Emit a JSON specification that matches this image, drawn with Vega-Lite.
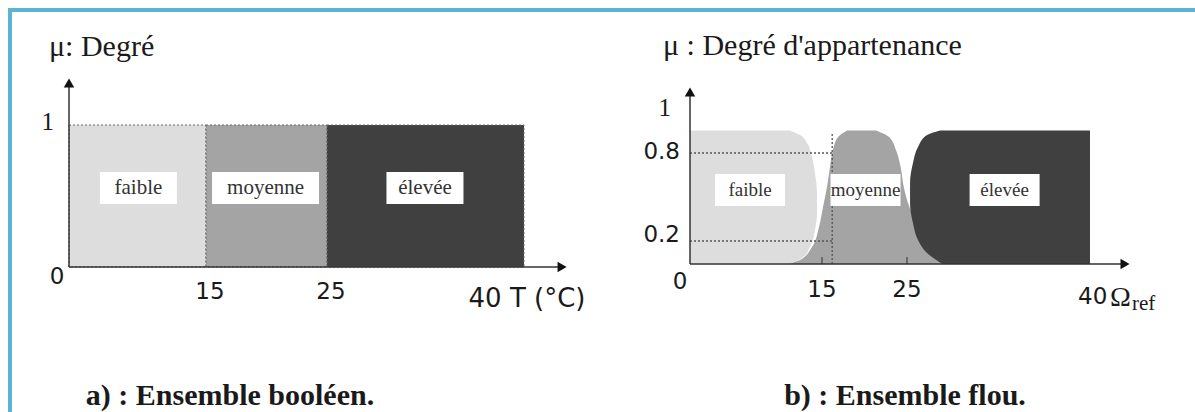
{
  "$schema": "https://vega.github.io/schema/vega-lite/v6.json",
  "width": 1188,
  "height": 406,
  "autosize": {"type": "none"},
  "padding": {"left": 10, "top": 10, "right": -3, "bottom": -4},
  "background": "white",
  "config": {
    "view": {"stroke": "#5bb4d0", "strokeWidth": 4},
    "axis": {"disable": true},
    "legend": {"disable": true},
    "text": {"font": "Liberation Serif", "color": "#1a1a1a"}
  },
  "datasets": {
    "crisp": [
      {"set": "faible", "from": 0, "to": 15, "mu": 1},
      {"set": "moyenne", "from": 15, "to": 25, "mu": 1},
      {"set": "élevée", "from": 25, "to": 40, "mu": 1}
    ],
    "fuzzy": [
      {"set": "moyenne", "mu": 0, "lo": 10.8, "hi": 28.5},
      {"set": "moyenne", "mu": 0.035, "lo": 12.5, "hi": 28.0},
      {"set": "moyenne", "mu": 0.148, "lo": 13.86, "hi": 27.0},
      {"set": "moyenne", "mu": 0.295, "lo": 14.66, "hi": 26.0},
      {"set": "moyenne", "mu": 0.432, "lo": 15.12, "hi": 25.2},
      {"set": "moyenne", "mu": 0.568, "lo": 15.59, "hi": 24.62},
      {"set": "moyenne", "mu": 0.705, "lo": 15.94, "hi": 24.25},
      {"set": "moyenne", "mu": 0.813, "lo": 16.29, "hi": 23.7},
      {"set": "moyenne", "mu": 0.871, "lo": 16.88, "hi": 22.9},
      {"set": "moyenne", "mu": 0.9, "lo": 17.94, "hi": 21.35},
      {"set": "faible", "mu": 0, "lo": 0, "hi": 11.36},
      {"set": "faible", "mu": 0.052, "lo": 0, "hi": 12.73},
      {"set": "faible", "mu": 0.148, "lo": 0, "hi": 13.64},
      {"set": "faible", "mu": 0.275, "lo": 0, "hi": 14.2},
      {"set": "faible", "mu": 0.391, "lo": 0, "hi": 14.43},
      {"set": "faible", "mu": 0.527, "lo": 0, "hi": 14.43},
      {"set": "faible", "mu": 0.664, "lo": 0, "hi": 14.2},
      {"set": "faible", "mu": 0.773, "lo": 0, "hi": 13.86},
      {"set": "faible", "mu": 0.844, "lo": 0, "hi": 13.3},
      {"set": "faible", "mu": 0.88, "lo": 0, "hi": 12.5},
      {"set": "faible", "mu": 0.9, "lo": 0, "hi": 11.36},
      {"set": "élevée", "mu": 0, "lo": 27.9, "hi": 40},
      {"set": "élevée", "mu": 0.096, "lo": 26.64, "hi": 40},
      {"set": "élevée", "mu": 0.207, "lo": 25.9, "hi": 40},
      {"set": "élevée", "mu": 0.323, "lo": 25.49, "hi": 40},
      {"set": "élevée", "mu": 0.459, "lo": 25.25, "hi": 40},
      {"set": "élevée", "mu": 0.596, "lo": 25.25, "hi": 40},
      {"set": "élevée", "mu": 0.732, "lo": 25.49, "hi": 40},
      {"set": "élevée", "mu": 0.827, "lo": 25.9, "hi": 40},
      {"set": "élevée", "mu": 0.88, "lo": 26.64, "hi": 40},
      {"set": "élevée", "mu": 0.9, "lo": 27.7, "hi": 40}
    ],
    "labels": [
      {"panel": "a", "set": "faible", "x": 7.6, "mu": 0.556},
      {"panel": "a", "set": "moyenne", "x": 19.92, "mu": 0.556},
      {"panel": "a", "set": "élevée", "x": 32.46, "mu": 0.556},
      {"panel": "b", "set": "faible", "x": 6.82, "mu": 0.548},
      {"panel": "b", "set": "moyenne", "x": 20.12, "mu": 0.548},
      {"panel": "b", "set": "élevée", "x": 33.0, "mu": 0.548}
    ],
    "ticks": [{"v": 15}, {"v": 25}],
    "levels": [{"mu": 0.8}, {"mu": 0.2}]
  },
  "resolve": {"scale": {"x": "independent", "y": "independent"}},
  "layer": [
    {
      "layer": [
        {
          "data": {"name": "crisp"},
          "mark": {"type": "rect", "stroke": "#6a6a6a", "strokeDash": [2, 2], "strokeWidth": 1},
          "encoding": {
            "x": {"field": "from", "type": "quantitative", "stack": null, "scale": {"domain": [0, 15, 25, 40], "range": [59, 196, 317, 514], "nice": false, "zero": false}},
            "x2": {"field": "to"},
            "y": {"field": "mu", "type": "quantitative", "scale": {"domain": [0, 1], "range": [257, 115], "nice": false, "zero": false}},
            "y2": {"datum": 0},
            "color": {"field": "set", "type": "nominal", "scale": {"domain": ["faible", "moyenne", "élevée"], "range": ["#dddddd", "#a4a4a4", "#404040"]}}
          }
        },
        {
          "data": {"name": "labels"},
          "transform": [{"filter": "datum.panel === 'a' && datum.set !== 'moyenne'"}],
          "mark": {"type": "rect", "width": 77, "height": 32, "fill": "white"},
          "encoding": {
            "x": {"field": "x", "type": "quantitative"},
            "y": {"field": "mu", "type": "quantitative"}
          }
        },
        {
          "data": {"name": "labels"},
          "transform": [{"filter": "datum.panel === 'a' && datum.set === 'moyenne'"}],
          "mark": {"type": "rect", "width": 107, "height": 32, "fill": "white"},
          "encoding": {
            "x": {"field": "x", "type": "quantitative"},
            "y": {"field": "mu", "type": "quantitative"}
          }
        },
        {
          "data": {"name": "labels"},
          "transform": [{"filter": "datum.panel === 'a'"}],
          "mark": {"type": "text", "fontSize": 21, "color": "#333333"},
          "encoding": {
            "x": {"field": "x", "type": "quantitative"},
            "y": {"field": "mu", "type": "quantitative"},
            "text": {"field": "set"}
          }
        },
        {
          "data": {"values": [{}]},
          "mark": {"type": "rule", "color": "#333333", "strokeWidth": 1.5},
          "encoding": {"x": {"datum": 0, "type": "quantitative"}, "x2": {"datum": 42.9}, "y": {"datum": 0, "type": "quantitative"}}
        },
        {
          "data": {"values": [{}]},
          "mark": {"type": "rule", "color": "#333333", "strokeWidth": 1.5},
          "encoding": {"x": {"datum": 0, "type": "quantitative"}, "y": {"datum": 0, "type": "quantitative"}, "y2": {"datum": 1.3}}
        },
        {
          "data": {"values": [{}]},
          "mark": {"type": "point", "shape": "triangle-right", "filled": true, "color": "#111111", "opacity": 1, "size": 110},
          "encoding": {"x": {"datum": 42.9, "type": "quantitative"}, "y": {"datum": 0, "type": "quantitative"}}
        },
        {
          "data": {"values": [{}]},
          "mark": {"type": "point", "shape": "triangle-up", "filled": true, "color": "#111111", "opacity": 1, "size": 110},
          "encoding": {"x": {"datum": 0, "type": "quantitative"}, "y": {"datum": 1.296, "type": "quantitative"}}
        },
        {
          "data": {"values": [{}]},
          "mark": {"type": "text", "text": "μ: Degré", "fontSize": 30, "align": "left", "baseline": "alphabetic", "dx": -20, "dy": -22},
          "encoding": {"x": {"datum": 0, "type": "quantitative"}, "y": {"datum": 1.33, "type": "quantitative"}}
        },
        {
          "data": {"values": [{}]},
          "mark": {"type": "text", "text": "1", "fontSize": 25, "align": "right", "baseline": "middle", "dx": -15, "dy": -3},
          "encoding": {"x": {"datum": 0, "type": "quantitative"}, "y": {"datum": 1, "type": "quantitative"}}
        },
        {
          "data": {"values": [{}]},
          "mark": {"type": "text", "text": "0", "font": "DejaVu Sans", "fontSize": 23, "align": "center", "baseline": "middle", "dx": -12, "dy": 10},
          "encoding": {"x": {"datum": 0, "type": "quantitative"}, "y": {"datum": 0, "type": "quantitative"}}
        },
        {
          "data": {"name": "ticks"},
          "mark": {"type": "text", "font": "DejaVu Sans", "fontSize": 23, "align": "center", "baseline": "middle", "dx": 4, "dy": 25},
          "encoding": {"x": {"field": "v", "type": "quantitative"}, "y": {"datum": 0, "type": "quantitative"}, "text": {"field": "v"}}
        },
        {
          "data": {"values": [{}]},
          "mark": {"type": "text", "text": "40 T (°C)", "font": "DejaVu Sans", "fontSize": 26, "align": "center", "baseline": "middle", "dx": 3, "dy": 32},
          "encoding": {"x": {"datum": 40, "type": "quantitative"}, "y": {"datum": 0, "type": "quantitative"}}
        },
        {
          "data": {"values": [{}]},
          "mark": {"type": "text", "text": "a) : Ensemble booléen.", "fontSize": 30, "fontWeight": "bold", "align": "center", "baseline": "alphabetic", "dx": 24, "dy": 138},
          "encoding": {"x": {"datum": 15, "type": "quantitative"}, "y": {"datum": 0, "type": "quantitative"}}
        }
      ]
    },
    {
      "layer": [
        {
          "data": {"name": "fuzzy"},
          "transform": [{"filter": "datum.set === 'moyenne'"}],
          "mark": {"type": "area", "orient": "horizontal", "interpolate": "monotone"},
          "encoding": {
            "y": {"field": "mu", "type": "quantitative", "scale": {"domain": [0, 0.2, 0.8, 1], "range": [254, 231, 143, 98], "nice": false, "zero": false}},
            "x": {"field": "lo", "type": "quantitative", "stack": null, "scale": {"domain": [0, 15, 25, 40], "range": [680, 812, 897, 1080], "nice": false, "zero": false}},
            "x2": {"field": "hi"},
            "color": {"field": "set", "type": "nominal"}
          }
        },
        {
          "data": {"name": "fuzzy"},
          "transform": [{"filter": "datum.set === 'faible'"}],
          "mark": {"type": "area", "orient": "horizontal", "interpolate": "monotone"},
          "encoding": {
            "y": {"field": "mu", "type": "quantitative"},
            "x": {"field": "lo", "type": "quantitative", "stack": null},
            "x2": {"field": "hi"},
            "color": {"field": "set", "type": "nominal"}
          }
        },
        {
          "data": {"name": "fuzzy"},
          "transform": [{"filter": "datum.set === 'élevée'"}],
          "mark": {"type": "area", "orient": "horizontal", "interpolate": "monotone"},
          "encoding": {
            "y": {"field": "mu", "type": "quantitative"},
            "x": {"field": "lo", "type": "quantitative", "stack": null},
            "x2": {"field": "hi"},
            "color": {"field": "set", "type": "nominal"}
          }
        },
        {
          "data": {"name": "levels"},
          "mark": {"type": "rule", "color": "#555555", "strokeWidth": 1.3, "strokeDash": [2, 2]},
          "encoding": {"x": {"datum": 0, "type": "quantitative"}, "x2": {"datum": 16.2}, "y": {"field": "mu", "type": "quantitative"}}
        },
        {
          "data": {"values": [{}]},
          "mark": {"type": "rule", "color": "#555555", "strokeWidth": 1.3, "strokeDash": [2, 2]},
          "encoding": {"x": {"datum": 16.2, "type": "quantitative"}, "y": {"datum": 0, "type": "quantitative"}, "y2": {"datum": 0.89}}
        },
        {
          "data": {"name": "ticks"},
          "mark": {"type": "rule", "color": "#444444", "strokeWidth": 1.2},
          "encoding": {"x": {"field": "v", "type": "quantitative"}, "y": {"datum": 0, "type": "quantitative"}, "y2": {"datum": 0.06}}
        },
        {
          "data": {"name": "labels"},
          "transform": [{"filter": "datum.panel === 'b'"}],
          "mark": {"type": "rect", "width": 70, "height": 32, "fill": "white"},
          "encoding": {
            "x": {"field": "x", "type": "quantitative"},
            "y": {"field": "mu", "type": "quantitative"}
          }
        },
        {
          "data": {"name": "labels"},
          "transform": [{"filter": "datum.panel === 'b'"}],
          "mark": {"type": "text", "fontSize": 19, "color": "#333333"},
          "encoding": {
            "x": {"field": "x", "type": "quantitative"},
            "y": {"field": "mu", "type": "quantitative"},
            "text": {"field": "set"}
          }
        },
        {
          "data": {"values": [{}]},
          "mark": {"type": "rule", "color": "#333333", "strokeWidth": 1.5},
          "encoding": {"x": {"datum": 0, "type": "quantitative"}, "x2": {"datum": 42.87}, "y": {"datum": 0, "type": "quantitative"}}
        },
        {
          "data": {"values": [{}]},
          "mark": {"type": "rule", "color": "#333333", "strokeWidth": 1.5},
          "encoding": {"x": {"datum": 0, "type": "quantitative"}, "y": {"datum": 0, "type": "quantitative"}, "y2": {"datum": 1.07}}
        },
        {
          "data": {"values": [{}]},
          "mark": {"type": "point", "shape": "triangle-right", "filled": true, "color": "#111111", "opacity": 1, "size": 110},
          "encoding": {"x": {"datum": 42.87, "type": "quantitative"}, "y": {"datum": 0, "type": "quantitative"}}
        },
        {
          "data": {"values": [{}]},
          "mark": {"type": "point", "shape": "triangle-up", "filled": true, "color": "#111111", "opacity": 1, "size": 110},
          "encoding": {"x": {"datum": 0, "type": "quantitative"}, "y": {"datum": 1.071, "type": "quantitative"}}
        },
        {
          "data": {"values": [{}]},
          "mark": {"type": "text", "text": "μ : Degré d'appartenance", "fontSize": 30, "align": "left", "baseline": "alphabetic", "dx": -27, "dy": -32},
          "encoding": {"x": {"datum": 0, "type": "quantitative"}, "y": {"datum": 1.093, "type": "quantitative"}}
        },
        {
          "data": {"values": [{}]},
          "mark": {"type": "text", "text": "1", "fontSize": 25, "align": "right", "baseline": "middle", "dx": -19, "dy": 0},
          "encoding": {"x": {"datum": 0, "type": "quantitative"}, "y": {"datum": 1, "type": "quantitative"}}
        },
        {
          "data": {"values": [{}]},
          "mark": {"type": "text", "text": "0.8", "font": "DejaVu Sans", "fontSize": 23, "align": "right", "baseline": "middle", "dx": -10, "dy": -1},
          "encoding": {"x": {"datum": 0, "type": "quantitative"}, "y": {"datum": 0.8, "type": "quantitative"}}
        },
        {
          "data": {"values": [{}]},
          "mark": {"type": "text", "text": "0.2", "font": "DejaVu Sans", "fontSize": 23, "align": "right", "baseline": "middle", "dx": -10, "dy": -6},
          "encoding": {"x": {"datum": 0, "type": "quantitative"}, "y": {"datum": 0.2, "type": "quantitative"}}
        },
        {
          "data": {"values": [{}]},
          "mark": {"type": "text", "text": "0", "font": "DejaVu Sans", "fontSize": 23, "align": "center", "baseline": "middle", "dx": -10, "dy": 18},
          "encoding": {"x": {"datum": 0, "type": "quantitative"}, "y": {"datum": 0, "type": "quantitative"}}
        },
        {
          "data": {"name": "ticks"},
          "mark": {"type": "text", "font": "DejaVu Sans", "fontSize": 23, "align": "center", "baseline": "middle", "dx": 0, "dy": 26},
          "encoding": {"x": {"field": "v", "type": "quantitative"}, "y": {"datum": 0, "type": "quantitative"}, "text": {"field": "v"}}
        },
        {
          "data": {"values": [{}]},
          "mark": {"type": "text", "text": "40", "font": "DejaVu Sans", "fontSize": 23, "align": "left", "baseline": "middle", "dx": -12, "dy": 33},
          "encoding": {"x": {"datum": 40, "type": "quantitative"}, "y": {"datum": 0, "type": "quantitative"}}
        },
        {
          "data": {"values": [{}]},
          "mark": {"type": "text", "text": "Ω", "fontSize": 28, "align": "left", "baseline": "middle", "dx": 20, "dy": 34},
          "encoding": {"x": {"datum": 40, "type": "quantitative"}, "y": {"datum": 0, "type": "quantitative"}}
        },
        {
          "data": {"values": [{}]},
          "mark": {"type": "text", "text": "ref", "fontSize": 21, "align": "left", "baseline": "middle", "dx": 42, "dy": 40},
          "encoding": {"x": {"datum": 40, "type": "quantitative"}, "y": {"datum": 0, "type": "quantitative"}}
        },
        {
          "data": {"values": [{}]},
          "mark": {"type": "text", "text": "b) : Ensemble flou.", "fontSize": 30, "fontWeight": "bold", "align": "center", "baseline": "alphabetic", "dx": -2, "dy": 141},
          "encoding": {"x": {"datum": 25, "type": "quantitative"}, "y": {"datum": 0, "type": "quantitative"}}
        }
      ]
    }
  ]
}
